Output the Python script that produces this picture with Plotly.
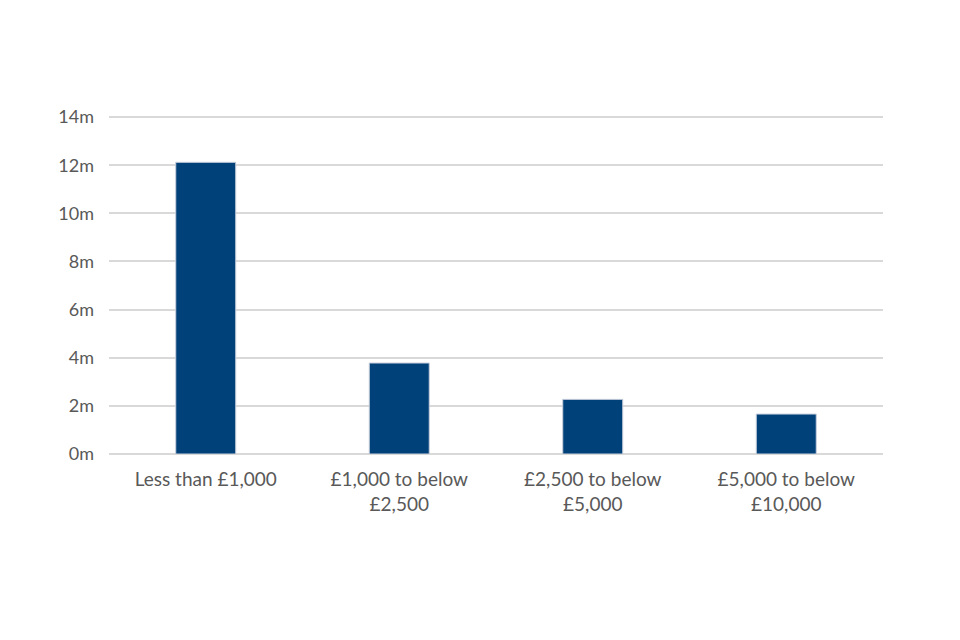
import plotly.graph_objects as go

categories = ["Less than £1,000", "£1,000 to below<br>£2,500", "£2,500 to below<br>£5,000", "£5,000 to below<br>£10,000"]
values_m = [12.12, 3.78, 2.27, 1.66]
y_ticks = [0, 2, 4, 6, 8, 10, 12, 14]
y_tick_labels = [f"{v}m" for v in y_ticks]

fig = go.Figure(go.Bar(
    x=categories, y=values_m,
    marker=dict(color="#00417A", line=dict(color="#c8cfdb", width=1)),
    width=0.31,
))

fig.update_layout(
    width=960, height=640,
    margin=dict(l=101, r=85, t=104, b=194, autoexpand=False),
    paper_bgcolor="white", plot_bgcolor="white",
    font=dict(family="Lato, Open Sans, sans-serif", color="#595959", size=19),
    showlegend=False,
    xaxis=dict(showgrid=False, showline=False, ticks="", tickfont=dict(size=19),
               automargin=False, ticklabelstandoff=12),
    yaxis=dict(range=[0, 14.21], tickvals=y_ticks, ticktext=y_tick_labels,
               showgrid=True, gridcolor="#d9d9d9", gridwidth=1.5,
               zeroline=True, zerolinecolor="#d9d9d9", zerolinewidth=1.5,
               showline=False, ticks="", automargin=False,
               ticklabelstandoff=14, tickfont=dict(size=18)),
)

fig.write_html("out.html")
